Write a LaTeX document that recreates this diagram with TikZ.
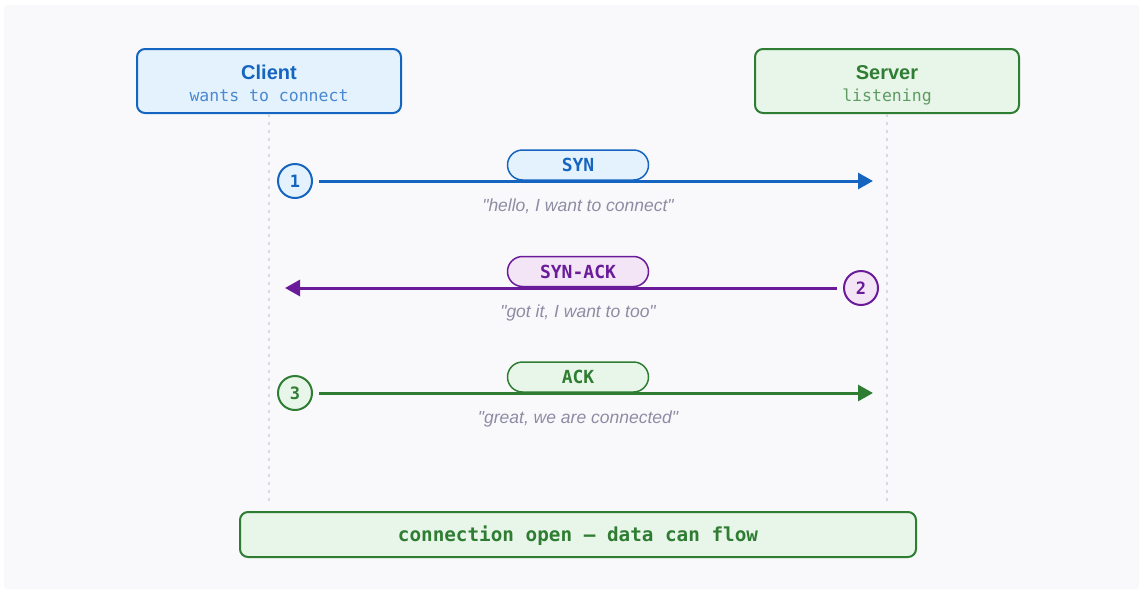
\documentclass[tikz,border=0pt]{standalone}
\usepackage{fontspec}
\setmainfont{Liberation Sans}
\setmonofont{DejaVu Sans Mono}
\newfontfamily\notefont{Liberation Sans}[Ligatures=TeXOff]
\usetikzlibrary{arrows.meta}

\definecolor{cBlue}{HTML}{1565C0}
\definecolor{cBlueFill}{HTML}{E3F2FD}
\definecolor{cBlueSub}{HTML}{4A88D0}
\definecolor{cGreen}{HTML}{2E7D32}
\definecolor{cGreenFill}{HTML}{E8F5E9}
\definecolor{cGreenSub}{HTML}{5E9C62}
\definecolor{cPurple}{HTML}{6A1B9A}
\definecolor{cPurpleFill}{HTML}{F3E5F5}
\definecolor{cNote}{HTML}{8E8CA3}
\definecolor{cLife}{HTML}{D6D9E1}
\definecolor{cBg}{HTML}{F9F9FC}

\tikzset{
  actor/.style={draw=#1, fill=#1Fill, line width=2pt, rounded corners=8pt,
    minimum width=264pt, minimum height=64pt, inner sep=0pt},
  actortitle/.style={anchor=base, text=#1, font=\fontsize{20}{24}\selectfont\bfseries},
  actorsub/.style={anchor=base, text=#1Sub, font=\fontsize{16.5}{20}\selectfont\ttfamily},
  lifeline/.style={draw=cLife, line width=1.5pt, dash pattern=on 3pt off 5pt},
  stepnum/.style={circle, draw=#1, fill=#1Fill, line width=2pt, minimum size=34pt,
    inner sep=0pt, text=#1, font=\fontsize{17}{20}\selectfont\ttfamily\bfseries},
  msg/.style={draw=#1, line width=3pt, -{Triangle[length=15pt,width=16pt]}},
  pill/.style={draw=#1, fill=#1Fill, line width=1.5pt, rounded corners=15pt,
    minimum width=141pt, minimum height=30pt, inner sep=0pt, text=#1,
    font=\fontsize{18}{22}\selectfont\ttfamily\bfseries},
  note/.style={anchor=base, text=cNote, font=\notefont\fontsize{17.5}{21}\selectfont\itshape},
  resultbox/.style={draw=cGreen, fill=cGreenFill, line width=2pt, rounded corners=8pt,
    minimum width=676pt, minimum height=45pt, inner sep=0pt, text=cGreen,
    text height=15.5pt, text depth=2.5pt,
    font=\fontsize{19.3}{23}\selectfont\ttfamily\bfseries},
}

\begin{document}
\begin{tikzpicture}[x=1pt, y=-1pt]
  \useasboundingbox (0,0) rectangle (1143,592);
  \fill[white] (0,0) rectangle (1143,592);
  \fill[cBg, rounded corners=3pt] (4,5) rectangle (1139,589);

  % participants
  \node[actor=cBlue] (client) at (269,81) {};
  \node[actortitle=cBlue] (clientName) at (269,79) {Client};
  \node[actorsub=cBlue] (clientState) at (269,101.5) {wants to connect};

  \node[actor=cGreen] (server) at (887,81) {};
  \node[actortitle=cGreen] (serverName) at (887,79) {Server};
  \node[actorsub=cGreen] (serverState) at (887,101.5) {listening};

  % lifelines
  \coordinate (clientEnd) at (269,505);
  \coordinate (serverEnd) at (887,505);
  \draw[lifeline] (client.south) -- (clientEnd);
  \draw[lifeline] (server.south) -- (serverEnd);

  % step 1: SYN
  \node[stepnum=cBlue] (s1) at (295,181) {1};
  \coordinate (t1) at (873,181);
  \draw[msg=cBlue, shorten <=6pt] (s1.east) -- (t1);
  \node[pill=cBlue] (syn) at (578,165) {SYN};
  \node[note] (n1) at (578,211) {"hello, I want to connect"};

  % step 2: SYN-ACK
  \node[stepnum=cPurple] (s2) at (861,288) {2};
  \coordinate (t2) at (285,288);
  \draw[msg=cPurple, shorten <=6pt] (s2.west) -- (t2);
  \node[pill=cPurple] (synack) at (578,271.5) {SYN-ACK};
  \node[note] (n2) at (578,317) {"got it, I want to too"};

  % step 3: ACK
  \node[stepnum=cGreen] (s3) at (295,393) {3};
  \coordinate (t3) at (873,393);
  \draw[msg=cGreen, shorten <=6pt] (s3.east) -- (t3);
  \node[pill=cGreen] (ack) at (578,377) {ACK};
  \node[note] (n3) at (578,423) {"great, we are connected"};

  % result
  \node[resultbox] (open) at (578,534.5) {connection open — data can flow};
\end{tikzpicture}
\end{document}
